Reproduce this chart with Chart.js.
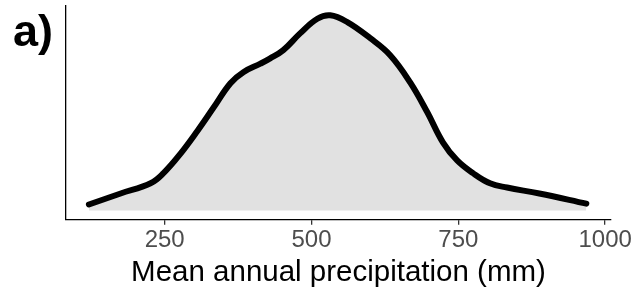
<!DOCTYPE html>
<html>
<head>
<meta charset="utf-8">
<script src="https://cdn.jsdelivr.net/npm/chart.js@4.4.1/dist/chart.umd.min.js"></script>
<style>
  html, body { margin: 0; padding: 0; background: #ffffff; }
  #wrap { position: relative; width: 638px; height: 291px; }
</style>
</head>
<body>
<div id="wrap"><canvas id="c" width="638" height="291"></canvas></div>
<script>
// Mean annual precipitation (mm) and estimated density (x 10^-3)
const precipitation = [121, 175, 226, 248, 277, 306, 333, 362, 384, 413, 429, 452, 481, 510, 532, 561, 600, 634, 668, 697, 724, 748, 775, 804, 833, 888, 968];
const density = [0.07, 0.20, 0.32, 0.44, 0.67, 0.94, 1.21, 1.50, 1.63, 1.73, 1.79, 1.89, 2.09, 2.26, 2.30, 2.22, 2.03, 1.83, 1.51, 1.16, 0.80, 0.59, 0.44, 0.32, 0.27, 0.20, 0.08];
const xTicks = [250, 500, 750, 1000];
const panelLabel = 'a)';
const xTitle = 'Mean annual precipitation (mm)';

const points = precipitation.map((x, i) => ({ x: x, y: density[i] }));

const panelLabelPlugin = {
  id: 'panelLabel',
  afterDraw(chart) {
    const ctx = chart.ctx;
    ctx.save();
    ctx.font = 'bold 45px "Liberation Sans", Arial, sans-serif';
    ctx.fillStyle = '#000000';
    ctx.textBaseline = 'alphabetic';
    ctx.textAlign = 'left';
    ctx.fillText(panelLabel, 13, 46);
    ctx.restore();
  }
};

new Chart(document.getElementById('c'), {
  type: 'line',
  data: {
    datasets: [{
      data: points,
      borderColor: '#000000',
      borderWidth: 6,
      borderCapStyle: 'round',
      borderJoinStyle: 'round',
      backgroundColor: '#E1E1E1',
      fill: 'origin',
      pointRadius: 0,
      tension: 0.4
    }]
  },
  options: {
    responsive: false,
    animation: false,
    events: [],
    layout: { padding: { left: 58, right: 27, top: 6, bottom: 0 } },
    plugins: { legend: { display: false }, tooltip: { enabled: false } },
    scales: {
      x: {
        type: 'linear',
        min: 82,
        max: 1010,
        afterBuildTicks(axis) { axis.ticks = xTicks.map(v => ({ value: v })); },
        grid: { display: true, drawOnChartArea: false, drawTicks: true, tickLength: 5, color: '#333333', lineWidth: 1.3 },
        border: { display: true, color: '#000000', width: 1.3 },
        ticks: {
          color: '#4D4D4D',
          font: { family: '"Liberation Sans", Arial, sans-serif', size: 24 },
          padding: 1,
          maxRotation: 0,
          autoSkip: false,
          callback: (v) => String(v)
        },
        title: {
          display: true,
          text: xTitle,
          color: '#000000',
          font: { family: '"Liberation Sans", Arial, sans-serif', size: 29.5 },
          padding: { top: 0, bottom: 0 }
        }
      },
      y: {
        min: -0.11,
        max: 2.41,
        grid: { display: false },
        border: { display: true, color: '#000000', width: 1.3 },
        ticks: { display: false }
      }
    }
  },
  plugins: [panelLabelPlugin]
});
</script>
</body>
</html>
